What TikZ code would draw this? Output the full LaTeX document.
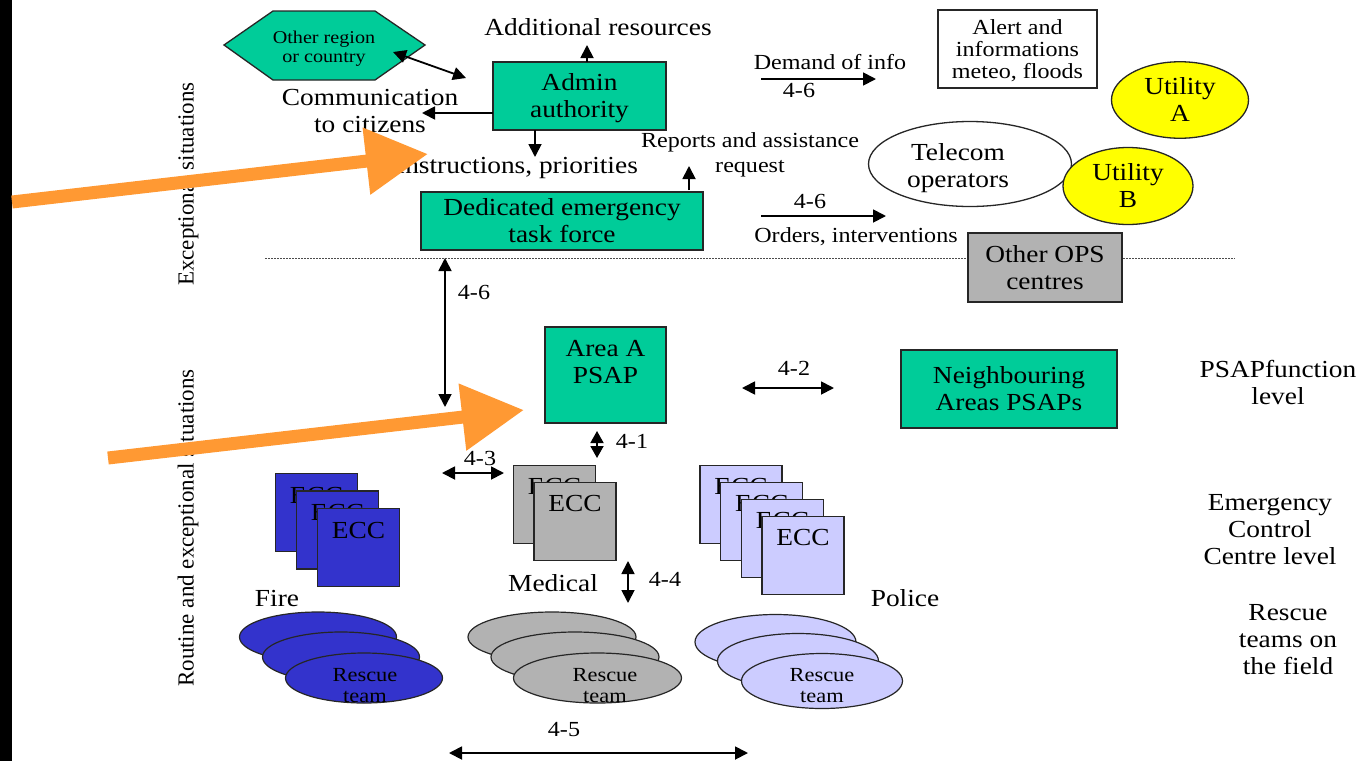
\documentclass[tikz,border=0pt]{standalone}
\usepackage{fontspec}
\usepackage{graphicx}
\setmainfont{Liberation Serif}
\usetikzlibrary{arrows.meta,shapes.geometric,calc}
\definecolor{tealg}{RGB}{0,204,153}
\definecolor{fireb}{RGB}{51,51,204}
\definecolor{polp}{RGB}{204,204,255}
\definecolor{medg}{RGB}{178,178,178}
\definecolor{orng}{RGB}{255,153,51}
\definecolor{ylw}{RGB}{255,255,0}
\newcommand\mainf{\fontsize{23}{25.4}\selectfont}
\newcommand\secf{\fontsize{21.5}{24.5}\selectfont}
\newcommand\alf{\fontsize{21.5}{22}\selectfont}
\newcommand\smf{\fontsize{18}{19}\selectfont}
\newcommand\resf{\fontsize{20}{21}\selectfont}
\newcommand\mtx[1]{\raisebox{-3pt}[\height][\depth]{\scalebox{1.19}[1.065]{\begin{tabular}{@{}c@{}}#1\end{tabular}}}}
\newcommand\stx[1]{\raisebox{-3pt}[\height][\depth]{\scalebox{1.12}[1]{\begin{tabular}{@{}c@{}}#1\end{tabular}}}}
\begin{document}
\begin{tikzpicture}[x=1pt,y=-1pt,
  tip/.tip={Triangle[length=13pt,width=13pt]},
  arr/.style={line width=1.8pt,-tip},
  darr/.style={line width=1.8pt,tip-tip},
  bx/.style={draw=black!85,line width=1.3pt,inner sep=0pt,align=center,font=\mainf},
  txt/.style={inner sep=0pt,align=center,font=\mainf},
  stxt/.style={inner sep=0pt,align=center,font=\secf},
  ell/.style={ellipse,draw=black!85,line width=1.3pt,inner sep=0pt,align=center,font=\mainf},
  eccbox/.style={draw=black!85,line width=1.3pt,minimum width=82pt,minimum height=78pt,inner sep=0pt},
  ecct/.style={inner sep=0pt,font=\mainf,anchor=center},
  resc/.style={ellipse,draw=black!85,line width=1.2pt,inner sep=0pt},
  orarr/.style={draw=orng,line width=13pt,-{Triangle[length=62pt,width=64pt]}},
  vtxt/.style={rotate=90,inner sep=0pt,font=\fontsize{23}{26}\selectfont}
]
\useasboundingbox (0,0) rectangle (1363,761);
\fill[white] (0,0) rectangle (1363,761);
\fill[black] (0,0) rectangle (12,761);

% vertical labels
\node[vtxt] (exc) at (188,184) {Exceptional situations};
\node[vtxt] (rout) at (188,528) {Routine and exceptional situations};

% dotted separator
\coordinate (dotL) at (265,258);
\coordinate (dotR) at (1235,258);
\draw[black!70,line width=1pt,dash pattern=on 1.5pt off 1.5pt] (dotL) -- (dotR);

% hexagon
\fill[tealg,draw=black!85,line width=1.3pt] (224,45)--(273,11)--(375,11)--(425,45)--(375,80)--(273,80)--cycle;
\node[inner sep=0pt,align=center,font=\smf] (hex) at (324,46) {\stx{Other region\\or country}};

% top area
\node[txt] (addres) at (598,27) {\mtx{Additional resources}};
\node[bx,fill=tealg,minimum width=173pt,minimum height=68pt] (admin) at (579.5,96) {\mtx{Admin\\authority}};
\node[txt] (comm) at (370,111) {\mtx{Communication\\to citizens}};
\node[txt] (instr) at (517,165) {\mtx{Instructions, priorities}};
\node[stxt] (reports) at (750,152) {\stx{Reports and assistance\\request}};
\node[bx,fill=tealg,minimum width=282pt,minimum height=58pt] (task) at (562,221) {\mtx{Dedicated emergency\\task force}};

\coordinate (a1s) at (587,62); \coordinate (a1e) at (587,45);
\draw[arr] (a1s) -- (a1e);
\coordinate (h1) at (393,52); \coordinate (h2) at (466,78);
\draw[darr] (h1) -- (h2);
\coordinate (c1s) at (493,113); \coordinate (c1e) at (422,113);
\draw[arr] (c1s) -- (c1e);
\coordinate (i1s) at (535,130); \coordinate (i1e) at (535,157);
\draw[arr] (i1s) -- (i1e);
\coordinate (r1s) at (689,190); \coordinate (r1e) at (689,166);
\draw[arr] (r1s) -- (r1e);

\node[stxt] (demand) at (830,62) {\stx{Demand of info}};
\coordinate (d1s) at (761,79); \coordinate (d1e) at (876,79);
\draw[arr] (d1s) -- (d1e);
\node[stxt] (l46a) at (799,90) {\stx{4-6}};
\node[stxt] (l46b) at (810,201) {\stx{4-6}};
\coordinate (o1s) at (761,216); \coordinate (o1e) at (886,216);
\draw[arr] (o1s) -- (o1e);
\node[stxt] (orders) at (856,235) {\stx{Orders, interventions}};

\node[draw=black!85,line width=1.3pt,fill=white,minimum width=159pt,minimum height=78pt,inner sep=0pt,align=center,font=\alf] (alert) at (1017.5,49) {\stx{Alert and\\informations\\meteo, floods}};
\node[ell,fill=ylw,minimum width=137pt,minimum height=75pt] (utilA) at (1180,100) {\mtx{Utility\\A}};
\node[ell,fill=white,minimum width=203pt,minimum height=85pt] (tel) at (970,164) {};
\node[txt] (telt) at (958,166) {\mtx{Telecom\\operators}};
\node[ell,fill=ylw,minimum width=130pt,minimum height=77pt] (utilB) at (1128,186) {\mtx{Utility\\B}};
\node[bx,fill=medg,minimum width=154pt,minimum height=69pt] (ops) at (1045,267.5) {\mtx{Other OPS\\centres}};

% PSAP level
\coordinate (v1s) at (445,258); \coordinate (v1e) at (445,407);
\draw[darr] (v1s) -- (v1e);
\node[stxt] (l46c) at (474,292) {\stx{4-6}};
\node[bx,fill=tealg,minimum width=121pt,minimum height=96pt] (psap) at (605.5,375) {};
\node[txt] (psapt) at (605.5,362) {\mtx{Area A\\PSAP}};
\coordinate (p2s) at (742,388); \coordinate (p2e) at (834,388);
\draw[darr] (p2s) -- (p2e);
\node[stxt] (l42) at (794,368) {\stx{4-2}};
\node[bx,fill=tealg,minimum width=216pt,minimum height=78pt] (neigh) at (1009,389) {\mtx{Neighbouring\\Areas PSAPs}};
\node[txt] (psapf) at (1278,383) {\mtx{PSAPfunction\\level}};

\coordinate (p1s) at (597,431); \coordinate (p1e) at (597,458);
\draw[line width=1.8pt,{Triangle[length=12pt,width=13pt]}-{Triangle[length=12pt,width=13pt]}] (p1s) -- (p1e);
\node[stxt] (l41) at (632,441) {\stx{4-1}};
\coordinate (p3s) at (442,473); \coordinate (p3e) at (504,473);
\draw[darr] (p3s) -- (p3e);
\node[stxt] (l43) at (480,458) {\stx{4-3}};

% ECC stacks
\foreach \i/\cx/\cy in {1/316.5/512.5,2/337.5/530,3/358.5/547.5}{
  \node[eccbox,fill=fireb] (fire\i) at (\cx,\cy) {};
  \node[ecct] (firet\i) at ($(fire\i.north)+(0,22)$) {\mtx{ECC}};
}
\foreach \i/\cx/\cy in {1/554.5/504.5,2/575/521.5}{
  \node[eccbox,fill=medg] (med\i) at (\cx,\cy) {};
  \node[ecct] (medt\i) at ($(med\i.north)+(0,21)$) {\mtx{ECC}};
}
\foreach \i/\cx/\cy in {1/741/504.5,2/761.7/521.5,3/782.4/538.5,4/803/555.5}{
  \node[eccbox,fill=polp] (pol\i) at (\cx,\cy) {};
  \node[ecct] (polt\i) at ($(pol\i.north)+(0,21)$) {\mtx{ECC}};
}

\node[txt] (medical) at (553,583) {\mtx{Medical}};
\coordinate (p4s) at (628,561); \coordinate (p4e) at (628,603);
\draw[darr] (p4s) -- (p4e);
\node[stxt] (l44) at (665,579) {\stx{4-4}};
\node[txt] (fire) at (277,598) {\mtx{Fire}};
\node[txt] (police) at (905,598) {\mtx{Police}};
\node[txt] (eccl) at (1270,529) {\mtx{Emergency\\Control\\Centre level}};
\node[txt] (rescl) at (1288,639) {\mtx{Rescue\\teams on\\the field}};

% rescue teams
\foreach \i/\cx/\cy in {1/318/637,2/341/657,3/364/678}{
  \node[resc,fill=fireb,minimum width=157pt,minimum height=50pt] (fr\i) at (\cx,\cy) {};
}
\node[inner sep=0pt,align=center,font=\resf] (frt) at (365,685) {\stx{Rescue\\team}};
\foreach \i/\cx/\cy in {1/552/637,2/575/657,3/597.5/678}{
  \node[resc,fill=medg,minimum width=168pt,minimum height=50pt] (mr\i) at (\cx,\cy) {};
}
\node[inner sep=0pt,align=center,font=\resf] (mrt) at (605,685) {\stx{Rescue\\team}};
\foreach \i/\cx/\cy in {1/775.5/642,2/798/661,3/822/681}{
  \node[resc,fill=polp,minimum width=161pt,minimum height=55pt] (pr\i) at (\cx,\cy) {};
}
\node[inner sep=0pt,align=center,font=\resf] (prt) at (822,685) {\stx{Rescue\\team}};

\node[stxt] (l45) at (564,729) {\stx{4-5}};
\coordinate (p5s) at (449,753); \coordinate (p5e) at (748,753);
\draw[darr] (p5s) -- (p5e);

% orange arrows
\coordinate (or1s) at (12,202); \coordinate (or1e) at (428,154);
\draw[orarr] (or1s) -- (or1e);
\coordinate (or2s) at (108,458); \coordinate (or2e) at (524,410);
\draw[orarr] (or2s) -- (or2e);
\end{tikzpicture}
\end{document}
